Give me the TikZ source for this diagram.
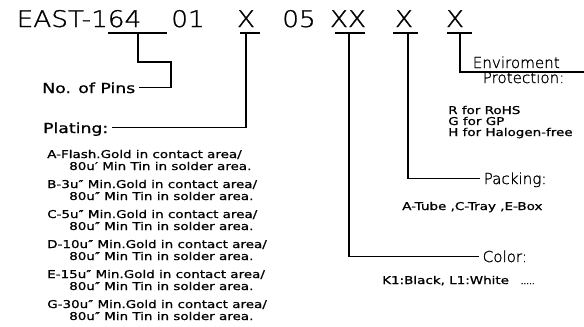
\documentclass[tikz,border=0pt]{standalone}
\usepackage{fontspec}
\newfontfamily\codefont[FakeStretch=1.15, FakeBold=1.2]{DejaVu Sans ExtraLight}
\newfontfamily\thinfont[FakeBold=1.2]{DejaVu Sans ExtraLight}
\newfontfamily\listfont[FakeStretch=1.25, FakeBold=1]{DejaVu Sans}
\tikzset{
  code/.style={font=\codefont\fontsize{19.5}{20}\selectfont, inner sep=0pt, anchor=base},
  title/.style={font=\thinfont\fontsize{12.9}{14}\selectfont, inner xsep=3pt, inner ysep=0pt, text depth=0pt, anchor=base west},
  tag/.style={font=\listfont\fontsize{11.8}{12}\selectfont, inner xsep=3pt, inner ysep=0pt, text depth=0pt, anchor=base east},
  note/.style={font=\listfont\fontsize{9.2}{10}\selectfont, inner sep=0pt, anchor=base west},
  leader/.style={line width=1pt}
}
\begin{document}
\begin{tikzpicture}[x=0.03cm, y=-0.03cm]
\path[use as bounding box, fill=white] (0,0) rectangle (584,326);

\node[code] (series) at (79,27) {EAST-164};
\node[code] (pins) at (188,27) {01};
\node[code] (plate) at (246,27) {X};
\node[code] (fix) at (299,27) {05};
\node[code] (colour) at (348,27) {XX};
\node[code] (pack) at (404,27) {X};
\node[code] (env) at (455,27) {X};

\coordinate (u-pins) at (138,33);
\coordinate (u-plate) at (246,33);
\coordinate (u-colour) at (349,33);
\coordinate (u-pack) at (408,33);
\coordinate (u-env) at (460,33);
\draw[leader] (108,33) -- (167,33);
\draw[leader] (240,33) -- (260,33);
\draw[leader] (335,33) -- (365,33);
\draw[leader] (393,33) -- (418,33);
\draw[leader] (447,33) -- (472,33);

\node[tag] (pins-lbl) at (139,93) {No. of Pins};
\node[tag] (plate-lbl) at (112,133) {Plating:};
\node[title] (pack-lbl) at (480,184) {Packing:};
\node[title] (colour-lbl) at (479,262) {Color:};
\node[title] (env-lbl) at (469,68) {Enviroment};
\node[title] (env-lbl2) at (479,83) {Protection:};
\coordinate (env-end) at (584,72);

\draw[leader] (u-pins) |- (171,62) |- (pins-lbl.east);
\draw[leader] (u-plate) |- (plate-lbl.east);
\draw[leader] (u-pack) |- (pack-lbl.west);
\draw[leader] (u-colour) |- (colour-lbl.west);
\draw[leader] (u-env) |- (env-end);

\foreach \key/\itm/\mark [count=\i from 0] in {a/{A-Flash.Gold}/′, b/{B-3u″ Min.Gold}/″, c/{C-5u″ Min.Gold}/″, d/{D-10u″ Min.Gold}/″, e/{E-15u″ Min.Gold}/″, g/{G-30u″ Min.Gold}/″}
{
  \node[note] (gold-\key) at (47,158+30*\i) {\itm{} in contact area/};
  \node[note] (tin-\key) at (69,170+30*\i) {80u\mark{} Min Tin in solder area.};
}

\node[note] (rohs) at (448,114) {R for RoHS};
\node[note] (gp) at (448,125) {G for GP};
\node[note] (hf) at (448,136) {H for Halogen-free};
\node[note] (pack-note) at (402,210) {A-Tube ,C-Tray ,E-Box};
\node[note] (colour-note) at (382,284) {K1:Black, L1:White\hspace{10pt}{\fontsize{6}{7}\selectfont .....}};
\end{tikzpicture}
\end{document}
